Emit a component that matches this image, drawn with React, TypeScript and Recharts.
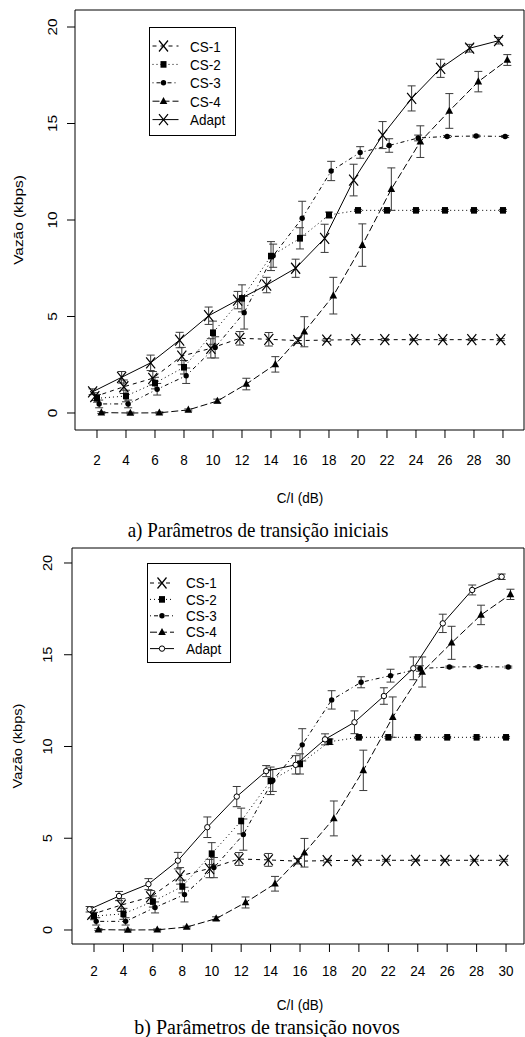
import { LineChart, Line, XAxis, YAxis, ErrorBar, ReferenceArea } from 'recharts';

// C/I (dB) values on the x axis
const snr = [2, 4, 6, 8, 10, 12, 14, 16, 18, 20, 22, 24, 26, 28, 30];
const yTicks = [0, 5, 10, 15, 20];

// throughput (kbps) and half-width of the error bar for each coding scheme
const cs1 = [0.85, 1.36, 1.8, 2.95, 3.35, 3.87, 3.82, 3.75, 3.78, 3.8, 3.8, 3.8, 3.8, 3.8, 3.8];
const cs1Err = [0.2, 0.35, 0.35, 0.45, 0.5, 0.35, 0.35, 0.15, 0.08, 0.05, 0.05, 0.05, 0.05, 0.05, 0.05];
const cs2 = [0.76, 0.88, 1.55, 2.37, 4.16, 5.94, 8.13, 9.05, 10.26, 10.5, 10.5, 10.5, 10.5, 10.5, 10.5];
const cs2Err = [0.2, 0.3, 0.3, 0.35, 0.6, 0.7, 0.75, 0.55, 0.15, 0.05, 0.05, 0.05, 0.05, 0.05, 0.05];
const cs3 = [0.47, 0.47, 1.23, 1.93, 3.4, 5.2, 8.15, 10.09, 12.54, 13.5, 13.86, 14.25, 14.33, 14.35, 14.33];
const cs3Err = [0.2, 0.2, 0.3, 0.4, 0.55, 0.85, 0.6, 0.88, 0.5, 0.3, 0.35, 0.15, 0.05, 0.05, 0.05];
const cs4 = [0.02, 0, 0.01, 0.16, 0.62, 1.5, 2.52, 4.21, 6.08, 8.7, 11.6, 14.06, 15.65, 17.17, 18.29];
const cs4Err = [0.05, 0.05, 0.05, 0.05, 0.1, 0.3, 0.4, 0.78, 0.95, 1.1, 1.1, 0.82, 0.9, 0.53, 0.28];

// adaptive scheme: a) initial transition parameters, b) new ones
const adaptA = [1.1, 1.85, 2.6, 3.78, 5.04, 5.85, 6.63, 7.5, 9.05, 12.07, 14.4, 16.3, 17.86, 18.9, 19.29];
const adaptAErr = [0.15, 0.3, 0.4, 0.4, 0.45, 0.45, 0.4, 0.47, 0.73, 0.82, 0.7, 0.65, 0.47, 0.2, 0.17];
const adaptB = [1.13, 1.85, 2.5, 3.78, 5.6, 7.27, 8.66, 9.0, 10.39, 11.32, 12.75, 14.26, 16.71, 18.53, 19.25];
const adaptBErr = [0.15, 0.25, 0.3, 0.45, 0.56, 0.55, 0.3, 0.5, 0.3, 0.62, 0.45, 0.62, 0.5, 0.27, 0.15];

// small horizontal shift per series (dB) so the error bars don't overlap
const shift = { adapt: -0.3, cs1: -0.15, cs2: 0, cs3: 0.15, cs4: 0.3 };

const SANS = '"Liberation Sans", Arial, sans-serif';
const SERIF = '"Liberation Serif", "Times New Roman", serif';

const rows = (vals: number[], errs: number[], off: number) =>
  snr.map((s, i) => ({ x: s + off, y: vals[i], err: errs[i] }));

type Kind = 'x' | 'square' | 'dot' | 'tri' | 'open';

function Marker({ kind, cx, cy }: { kind: Kind; cx: number; cy: number }) {
  if (kind === 'x')
    return (
      <path
        d={`M${cx - 4.5},${cy - 5.5}L${cx + 4.5},${cy + 5.5}M${cx - 4.5},${cy + 5.5}L${cx + 4.5},${cy - 5.5}`}
        stroke="#000"
        strokeWidth={1.2}
        fill="none"
      />
    );
  if (kind === 'square') return <rect x={cx - 3} y={cy - 3.3} width={6} height={6.6} fill="#000" />;
  if (kind === 'dot') return <circle cx={cx} cy={cy} r={2.7} fill="#000" />;
  if (kind === 'tri') return <path d={`M${cx},${cy - 4.3}L${cx + 3.8},${cy + 2.8}L${cx - 3.8},${cy + 2.8}Z`} fill="#000" />;
  return <circle cx={cx} cy={cy} r={2.7} fill="#fff" stroke="#000" strokeWidth={1} />;
}

const dotFor = (kind: Kind) => (p: any) => (
  <g key={`m-${p.index}`}>
    <Marker kind={kind} cx={p.cx} cy={p.cy} />
  </g>
);

interface SeriesDef {
  name: string;
  data: { x: number; y: number; err: number }[];
  dash?: string;
  kind: Kind;
}

interface PanelProps {
  top: number;
  height: number;
  plotLeft: number;
  xDomain: [number, number];
  yDomain: [number, number];
  xTickMargin: number;
  yTickMargin: number;
  stretch: number;
  series: SeriesDef[];
}

function Panel({ top, height, plotLeft, xDomain, yDomain, xTickMargin, yTickMargin, stretch, series }: PanelProps) {
  const XTick = ({ x, y, payload }: any) => (
    <g transform={`translate(${x},${y}) scale(1,${stretch})`}>
      <text textAnchor="middle" dy="0.71em" fontSize={13.5} fontFamily={SANS} fill="#000">
        {payload.value}
      </text>
    </g>
  );
  const YTick = ({ x, y, payload }: any) => (
    <g transform={`translate(${x},${y}) rotate(-90) scale(${stretch},1)`}>
      <text textAnchor="middle" fontSize={13.5} fontFamily={SANS} fill="#000">
        {payload.value}
      </text>
    </g>
  );

  return (
    <div style={{ position: 'absolute', left: 0, top }}>
      <LineChart width={525} height={height} margin={{ top: 10, right: 1, left: 0, bottom: 0 }}>
        <XAxis
          type="number"
          dataKey="x"
          domain={xDomain}
          ticks={snr}
          allowDataOverflow
          axisLine={false}
          tickSize={8}
          tickMargin={xTickMargin}
          tickLine={{ stroke: '#000' }}
          tick={<XTick />}
          height={40}
          interval={0}
        />
        <YAxis
          type="number"
          dataKey="y"
          domain={yDomain}
          ticks={yTicks}
          allowDataOverflow
          axisLine={false}
          tickSize={8}
          tickMargin={yTickMargin}
          tickLine={{ stroke: '#000' }}
          tick={<YTick />}
          width={plotLeft}
          interval={0}
        />
        <ReferenceArea
          x1={xDomain[0]}
          x2={xDomain[1]}
          y1={yDomain[0]}
          y2={yDomain[1]}
          fill="none"
          fillOpacity={0}
          stroke="#000"
          strokeWidth={1}
        />
        {series.map((s) => (
          <Line
            key={s.name}
            name={s.name}
            data={s.data}
            dataKey="y"
            type="linear"
            stroke="#000"
            strokeWidth={1}
            strokeDasharray={s.dash}
            dot={dotFor(s.kind)}
            activeDot={false}
            isAnimationActive={false}
          >
            <ErrorBar dataKey="err" direction="y" width={4} stroke="#3a3a3a" strokeWidth={1} isAnimationActive={false} />
          </Line>
        ))}
      </LineChart>
    </div>
  );
}

function LegendBox({
  left,
  top,
  width,
  height,
  rowTop,
  rowGap,
  lineX,
  markX,
  textX,
  stretch,
  series,
}: {
  left: number;
  top: number;
  width: number;
  height: number;
  rowTop: number;
  rowGap: number;
  lineX: [number, number];
  markX: number;
  textX: number;
  stretch: number;
  series: SeriesDef[];
}) {
  return (
    <svg style={{ position: 'absolute', left, top, overflow: 'visible' }} width={width} height={height}>
      <rect x={0.5} y={0.5} width={width - 1} height={height - 1} fill="#fff" stroke="#000" strokeWidth={1} />
      {series.map((s, i) => {
        const cy = rowTop + i * rowGap;
        return (
          <g key={s.name}>
            <line x1={lineX[0]} x2={lineX[1]} y1={cy} y2={cy} stroke="#000" strokeWidth={1} strokeDasharray={s.dash} />
            <Marker kind={s.kind} cx={markX} cy={cy} />
            <g transform={`translate(${textX},${cy}) scale(1,${stretch})`}>
              <text dy="0.36em" fontSize={13.5} fontFamily={SANS} fill="#000">
                {s.name}
              </text>
            </g>
          </g>
        );
      })}
    </svg>
  );
}

const label = (left: number, top: number, text: string, stretch: number, rotate = false): React.CSSProperties => ({
  position: 'absolute',
  left,
  top,
  transform: rotate
    ? `translate(-50%,-50%) rotate(-90deg) scale(${stretch},1)`
    : `translate(-50%,-50%) scale(1,${stretch})`,
  whiteSpace: 'nowrap',
  fontFamily: SANS,
  fontSize: 13.5,
  lineHeight: 1,
});

export default function App() {
  const common = (adapt: number[], adaptErr: number[], adaptKind: Kind): SeriesDef[] => [
    { name: 'CS-1', data: rows(cs1, cs1Err, shift.cs1), dash: '4 4', kind: 'x' },
    { name: 'CS-2', data: rows(cs2, cs2Err, shift.cs2), dash: '1 3', kind: 'square' },
    { name: 'CS-3', data: rows(cs3, cs3Err, shift.cs3), dash: '1 3 4 3', kind: 'dot' },
    { name: 'CS-4', data: rows(cs4, cs4Err, shift.cs4), dash: '7 3', kind: 'tri' },
    { name: 'Adapt', data: rows(adapt, adaptErr, shift.adapt), kind: adaptKind },
  ];
  const seriesA = common(adaptA, adaptAErr, 'x');
  const seriesB = common(adaptB, adaptBErr, 'open');

  return (
    <div style={{ position: 'absolute', left: 0, top: 0, width: 525, height: 1037, background: '#fff', overflow: 'hidden' }}>
      <Panel
        top={0}
        height={470}
        plotLeft={75}
        xDomain={[0.483, 31.45]}
        yDomain={[-0.881, 20.881]}
        xTickMargin={16}
        yTickMargin={10}
        stretch={1.14}
        series={seriesA}
      />
      <LegendBox
        left={149}
        top={27}
        width={87}
        height={109}
        rowTop={19}
        rowGap={18.4}
        lineX={[3.5, 29.5]}
        markX={14.5}
        textX={41}
        stretch={1.14}
        series={seriesA}
      />
      <div style={label(19, 220, 'Vazão (kbps)', 1.14, true)}>Vazão (kbps)</div>
      <div style={label(300, 498, 'C/I (dB)', 1.14)}>C/I (dB)</div>
      <div style={{ ...label(258, 530, '', 1.14), fontFamily: SERIF, fontSize: 19 }}>a) Parâmetros de transição iniciais</div>

      <Panel
        top={538}
        height={446}
        plotLeft={72}
        xDomain={[0.505, 31.22]}
        yDomain={[-0.763, 20.817]}
        xTickMargin={14}
        yTickMargin={12}
        stretch={1.08}
        series={seriesB}
      />
      <LegendBox
        left={147}
        top={563}
        width={84}
        height={100}
        rowTop={20}
        rowGap={16.4}
        lineX={[3, 27]}
        markX={15}
        textX={39}
        stretch={1.08}
        series={seriesB}
      />
      <div style={label(17.5, 746, 'Vazão (kbps)', 1.08, true)}>Vazão (kbps)</div>
      <div style={label(300, 1005, 'C/I (dB)', 1.08)}>C/I (dB)</div>
      <div style={{ ...label(267, 1026, '', 1.08), fontFamily: SERIF, fontSize: 20 }}>b) Parâmetros de transição novos</div>
    </div>
  );
}
